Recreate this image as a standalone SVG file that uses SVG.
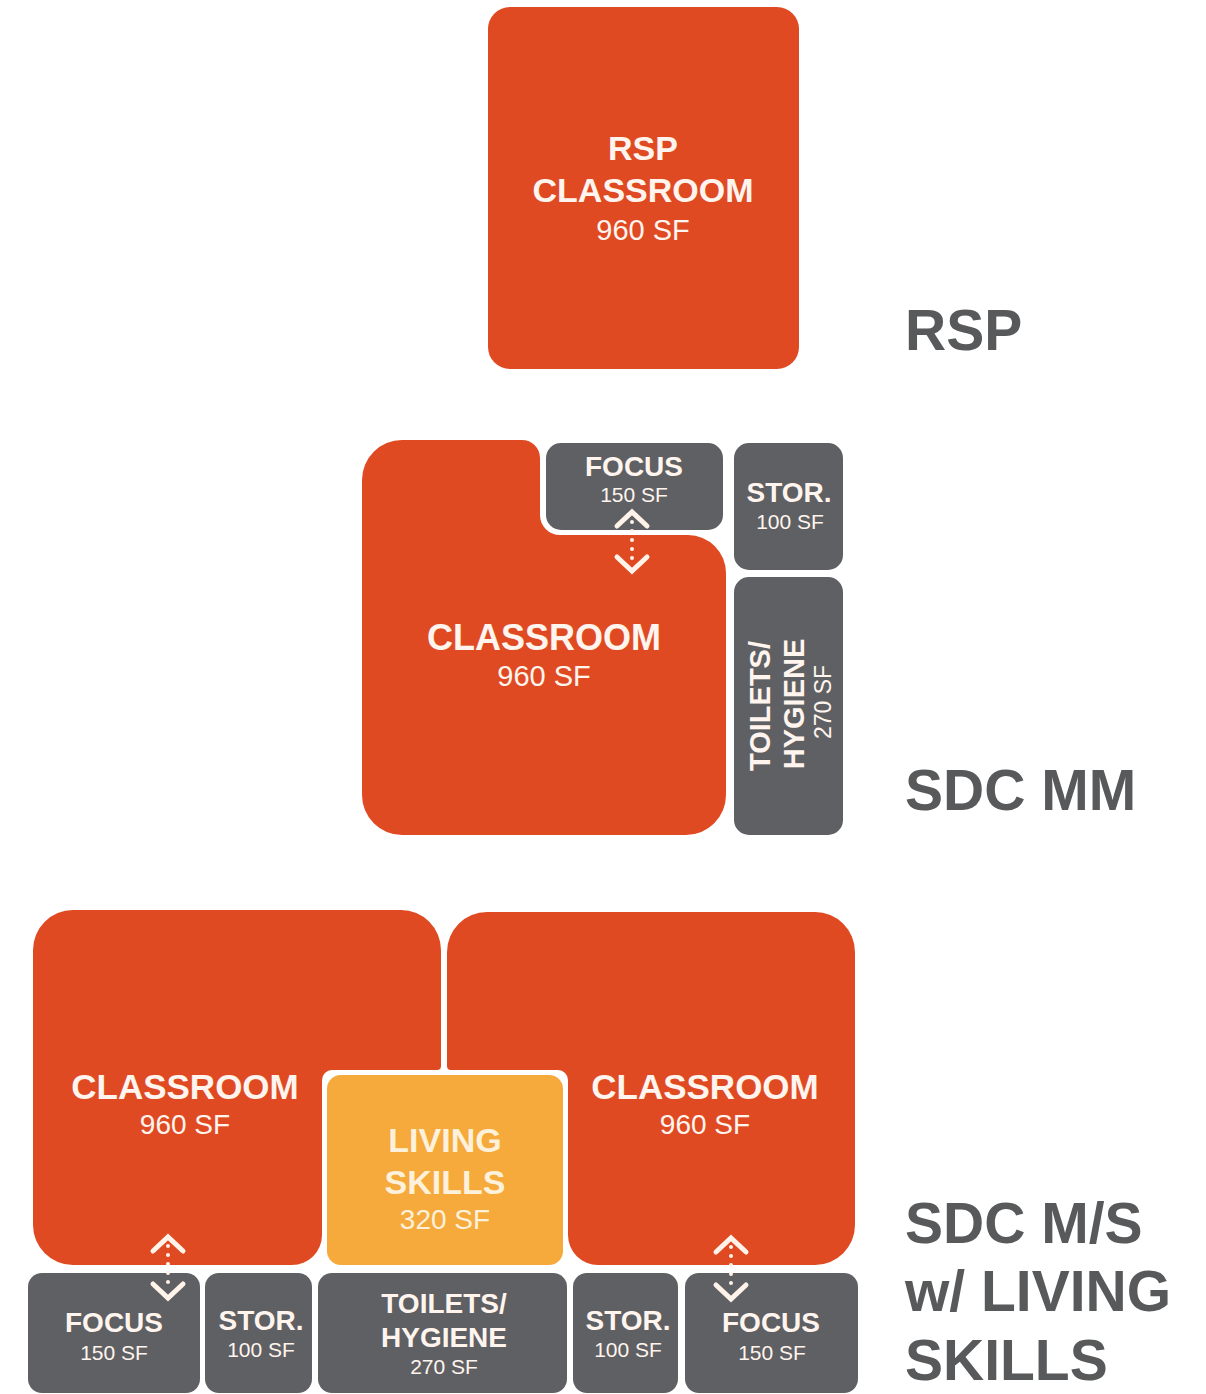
<svg xmlns="http://www.w3.org/2000/svg" width="1206" height="1394" viewBox="0 0 1206 1394">
<style>
.room{fill:#e04a23}
.gray{fill:#5f6064}
.living{fill:#f5aa3b}
.t{font-family:"Liberation Sans",Arial,Helvetica,sans-serif;fill:#fff5ee;text-anchor:middle}
.b{font-weight:bold}
.lbl{font-family:"Liberation Sans",Arial,Helvetica,sans-serif;font-weight:bold;fill:#58595b;font-size:57px}
.chev{fill:none;stroke:#fff3ea;stroke-width:5;stroke-linecap:round;stroke-linejoin:miter}
.dots{fill:none;stroke:#fff3ea;stroke-width:4;stroke-linecap:round;stroke-dasharray:0 9}
</style>
<rect width="1206" height="1394" fill="#ffffff"/>

<!-- RSP -->
<g id="rsp-classroom">
<rect class="room" x="488" y="7" width="311" height="362" rx="22"/>
<text class="t b" x="643" y="160" font-size="34">RSP</text>
<text class="t b" x="643" y="202" font-size="34">CLASSROOM</text>
<text class="t" x="643" y="240" font-size="29">960 SF</text>
</g>
<g id="label-rsp"><text class="lbl" x="905" y="350">RSP</text></g>

<!-- SDC MM -->
<g id="mm-classroom">
<path class="room" d="M402,440 H522 A18,18 0 0 1 540,458 V515 A20,20 0 0 0 560,535 H688 A38,38 0 0 1 726,573 V795 A40,40 0 0 1 686,835 H402 A40,40 0 0 1 362,795 V480 A40,40 0 0 1 402,440 Z"/>
<text class="t b" x="544" y="650" font-size="36">CLASSROOM</text>
<text class="t" x="544" y="686" font-size="29">960 SF</text>
</g>
<g id="mm-focus">
<rect class="gray" x="546" y="443" width="177" height="87" rx="15"/>
<text class="t b" x="634" y="476" font-size="28">FOCUS</text>
<text class="t" x="634" y="502" font-size="21">150 SF</text>
</g>
<g id="mm-stor">
<rect class="gray" x="734" y="443" width="109" height="127" rx="15"/>
<text class="t b" x="789" y="502" font-size="28">STOR.</text>
<text class="t" x="790" y="529" font-size="21">100 SF</text>
</g>
<g id="mm-toilets">
<rect class="gray" x="734" y="577" width="109" height="258" rx="15"/>
<text class="t b" font-size="29" transform="translate(770,706) rotate(-90)">TOILETS/</text>
<text class="t b" font-size="29" transform="translate(804,704) rotate(-90)">HYGIENE</text>
<text class="t" font-size="23" transform="translate(831,702) rotate(-90)">270 SF</text>
</g>
<g id="label-mm"><text class="lbl" x="905" y="810" font-size="58">SDC MM</text></g>

<!-- SDC M/S -->
<g id="ms-classroom-left">
<path class="room" d="M73,910 H401 A40,40 0 0 1 441,950 V1066 A4,4 0 0 1 437,1070 H332 A10,10 0 0 0 322,1080 V1235 A30,30 0 0 1 292,1265 H73 A40,40 0 0 1 33,1225 V950 A40,40 0 0 1 73,910 Z"/>
<text class="t b" x="185" y="1099" font-size="35">CLASSROOM</text>
<text class="t" x="185" y="1134" font-size="28">960 SF</text>
</g>
<g id="ms-classroom-right">
<path class="room" d="M487,912 H815 A40,40 0 0 1 855,952 V1225 A40,40 0 0 1 815,1265 H598 A30,30 0 0 1 568,1235 V1080 A10,10 0 0 0 558,1070 H451 A4,4 0 0 1 447,1066 V952 A40,40 0 0 1 487,912 Z"/>
<text class="t b" x="705" y="1099" font-size="35">CLASSROOM</text>
<text class="t" x="705" y="1134" font-size="28">960 SF</text>
</g>
<g id="ms-living">
<rect class="living" x="327" y="1075" width="236" height="190" rx="14"/>
<text class="t b" x="445" y="1152" font-size="34" style="fill:#fdf1dc">LIVING</text>
<text class="t b" x="445" y="1194" font-size="34" style="fill:#fdf1dc">SKILLS</text>
<text class="t" x="445" y="1229" font-size="28" style="fill:#fdf1dc">320 SF</text>
</g>
<g id="ms-focus-left">
<rect class="gray" x="28" y="1273" width="172" height="120" rx="14"/>
<text class="t b" x="114" y="1332" font-size="28">FOCUS</text>
<text class="t" x="114" y="1360" font-size="21">150 SF</text>
</g>
<g id="ms-stor-left">
<rect class="gray" x="205" y="1273" width="107" height="120" rx="14"/>
<text class="t b" x="261" y="1330" font-size="28">STOR.</text>
<text class="t" x="261" y="1357" font-size="21">100 SF</text>
</g>
<g id="ms-toilets">
<rect class="gray" x="318" y="1273" width="249" height="120" rx="14"/>
<text class="t b" x="444" y="1313" font-size="28">TOILETS/</text>
<text class="t b" x="444" y="1347" font-size="28">HYGIENE</text>
<text class="t" x="444" y="1374" font-size="21">270 SF</text>
</g>
<g id="ms-stor-right">
<rect class="gray" x="573" y="1273" width="105" height="120" rx="14"/>
<text class="t b" x="628" y="1330" font-size="28">STOR.</text>
<text class="t" x="628" y="1357" font-size="21">100 SF</text>
</g>
<g id="ms-focus-right">
<rect class="gray" x="685" y="1273" width="173" height="120" rx="14"/>
<text class="t b" x="771" y="1332" font-size="28">FOCUS</text>
<text class="t" x="772" y="1360" font-size="21">150 SF</text>
</g>
<g id="label-ms">
<text class="lbl" x="905" y="1243">SDC M/S</text>
<text class="lbl" x="905" y="1311">w/ LIVING</text>
<text class="lbl" x="905" y="1380">SKILLS</text>
</g>

<!-- connectors -->
<g id="connectors">
<g id="arrow-mm">
<polyline class="chev" points="617,526 632,512 647,526"/>
<line class="dots" x1="632" y1="522" x2="632" y2="560"/>
<polyline class="chev" points="617,557 632,571 647,557"/>
</g>
<g id="arrow-ms-left">
<polyline class="chev" points="153,1251 168,1237 183,1251"/>
<line class="dots" x1="168" y1="1246" x2="168" y2="1290"/>
<polyline class="chev" points="153,1284 168,1298 183,1284"/>
</g>
<g id="arrow-ms-right">
<polyline class="chev" points="716,1252 731,1238 746,1252"/>
<line class="dots" x1="731" y1="1247" x2="731" y2="1291"/>
<polyline class="chev" points="716,1285 731,1299 746,1285"/>
</g>
</g>
</svg>
